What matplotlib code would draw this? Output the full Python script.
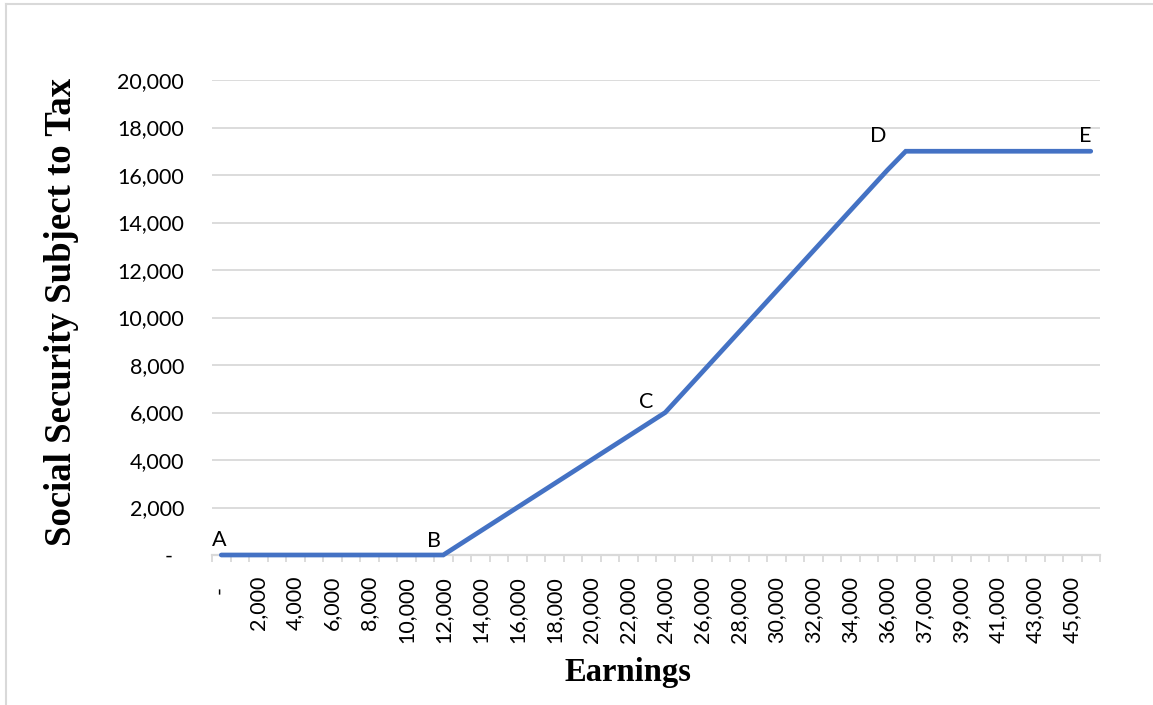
import numpy as np
import matplotlib.pyplot as plt
from matplotlib.lines import Line2D

# earnings categories (Excel category axis, one point per category)
earnings = [0, 1000, 2000, 3000, 4000, 5000, 6000, 7000, 8000, 9000,
            10000, 11000, 12000, 13000, 14000, 15000, 16000, 17000, 18000, 19000,
            20000, 21000, 22000, 23000, 24000, 25000, 26000, 27000, 28000, 29000,
            30000, 31000, 32000, 33000, 34000, 35000, 36000, 36941, 37000, 38000,
            39000, 40000, 41000, 42000, 43000, 44000, 45000, 46000]

# social security benefits subject to tax
taxable = [0, 0, 0, 0, 0, 0, 0, 0, 0, 0,
           0, 0, 0, 500, 1000, 1500, 2000, 2500, 3000, 3500,
           4000, 4500, 5000, 5500, 6000, 6850, 7700, 8550, 9400, 10250,
           11100, 11950, 12800, 13650, 14500, 15350, 16200, 17000, 17000, 17000,
           17000, 17000, 17000, 17000, 17000, 17000, 17000, 17000]

# labelled points: (category index, letter)
point_labels = [(0, "A"), (12, "B"), (24, "C"), (37, "D"), (47, "E")]
label_offsets = [(-1.5, 6.5), (-6.5, 6), (-14, 3), (-20, 7), (-4, 7)]

y_ticks = np.arange(0, 20001, 2000)


def acct(v):
    # Excel accounting style: zero shows as a dash, padded
    return "-  " if v == 0 else f"{v:,}"


W, H = 1153, 705
fig = plt.figure(figsize=(W / 100, H / 100), dpi=100)
ax = fig.add_axes([212 / W, 1 - 555 / H, (1100 - 212) / W, (555 - 80) / H])

tick_font = "Lato"
grid_col = "#d9d9d9"
line_col = "#4472c4"

x = np.arange(len(earnings))
ax.plot(x, taxable, color=line_col, lw=3.4, solid_capstyle="round",
        solid_joinstyle="miter", zorder=3, clip_on=False)

for (i, letter), (dx, dy) in zip(point_labels, label_offsets):
    ax.annotate(letter, (x[i], taxable[i]), xytext=(dx, dy),
                textcoords="offset points", ha="center", va="baseline",
                fontsize=15.5, family=tick_font)

ax.set_xlim(-0.5, len(earnings) - 0.5)
ax.set_ylim(0, 20000)

# y axis
ax.set_yticks(y_ticks)
ax.set_yticklabels([acct(v) for v in y_ticks], fontsize=15.5, family=tick_font)
ax.tick_params(axis="y", length=0, pad=20)
ax.grid(axis="y", color=grid_col, lw=1.3)
ax.set_axisbelow(True)

# x axis: labels on every other category, tick marks between categories
ax.set_xticks(x[::2])
ax.set_xticklabels([acct(v) for v in earnings[::2]],
                   rotation=90, fontsize=15.5, family=tick_font)
ax.tick_params(axis="x", which="major", length=0, pad=15)
ax.set_xticks(np.arange(len(earnings) + 1) - 0.5, minor=True)
ax.tick_params(axis="x", which="minor", length=5, width=1.3, color=grid_col)

for s in ["top", "right", "left"]:
    ax.spines[s].set_visible(False)
ax.spines["bottom"].set_color(grid_col)
ax.spines["bottom"].set_linewidth(1.6)

fig.text(62 / W, 1 - 312 / H, "Social Security Subject to Tax", rotation=90,
         ha="center", va="center", fontsize=26.5, fontweight="bold",
         family="Liberation Serif")
fig.text(628 / W, 1 - 673 / H, "Earnings", ha="center", va="center",
         fontsize=23.5, fontweight="bold", family="Liberation Serif")

# chart area border (only left and top edges show)
fig.add_artist(Line2D([6 / W, 6 / W], [0, 1 - 4 / H], transform=fig.transFigure,
                      color=grid_col, lw=1.5))
fig.add_artist(Line2D([6 / W, 1], [1 - 4 / H, 1 - 4 / H], transform=fig.transFigure,
                      color=grid_col, lw=1.5))

fig.savefig("out.png", dpi=100)
